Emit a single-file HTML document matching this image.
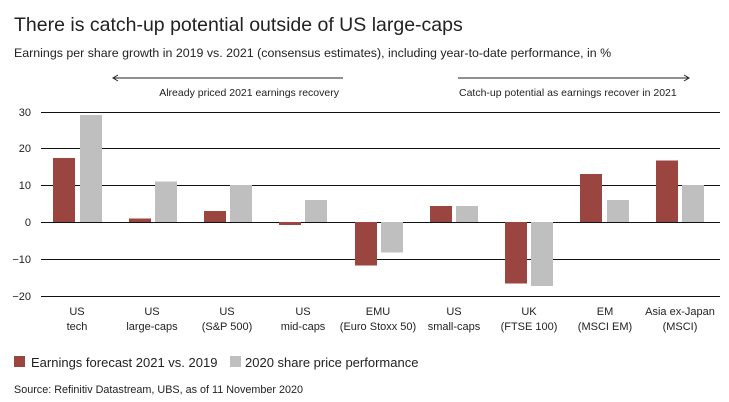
<!DOCTYPE html>
<html><head><meta charset="utf-8"><style>
body{margin:0;background:#fff;}
svg{display:block;font-family:"Liberation Sans",sans-serif;}
</style></head><body>
<svg width="729" height="402" viewBox="0 0 729 402" xmlns="http://www.w3.org/2000/svg">
<rect width="729" height="402" fill="#fff"/>
<text x="14" y="31" font-size="19.5" fill="#222">There is catch-up potential outside of US large-caps</text>
<text x="14" y="57" font-size="12.4" fill="#222">Earnings per share growth in 2019 vs. 2021 (consensus estimates), including year-to-date performance, in %</text>
<g stroke="#222" stroke-width="1" fill="none">
<line x1="113" y1="78" x2="343" y2="78"/><polyline points="118,75 113,78 118,81"/>
<line x1="458" y1="78" x2="689" y2="78"/><polyline points="684,75 689,78 684,81"/>
</g>
<text x="339" y="96" font-size="10.5" fill="#222" text-anchor="end">Already priced 2021 earnings recovery</text>
<text x="459" y="96" font-size="10.5" fill="#222">Catch-up potential as earnings recover in 2021</text>
<g stroke="#111" stroke-width="1">
<line x1="41" y1="112.5" x2="720" y2="112.5"/>
<line x1="41" y1="148.5" x2="720" y2="148.5"/>
<line x1="41" y1="185.5" x2="720" y2="185.5"/>
<line x1="41" y1="222.5" x2="720" y2="222.5"/>
<line x1="41" y1="259.5" x2="720" y2="259.5"/>
<line x1="41" y1="296.5" x2="720" y2="296.5"/>
</g>
<g font-size="11" fill="#222" text-anchor="end">
<text x="31" y="116">30</text><text x="31" y="152">20</text><text x="31" y="189">10</text>
<text x="31" y="226">0</text><text x="31" y="263">−10</text><text x="31" y="300">−20</text>
</g>
<g fill="#9b4541">
<rect x="53" y="158" width="22" height="64"/>
<rect x="129" y="218.5" width="22" height="3.5"/>
<rect x="204" y="211" width="22" height="11"/>
<rect x="279" y="222" width="22" height="3"/>
<rect x="355" y="222" width="22" height="43.5"/>
<rect x="430" y="206" width="22" height="16"/>
<rect x="505" y="222" width="22" height="61.5"/>
<rect x="580" y="174" width="22" height="48"/>
<rect x="656" y="160.5" width="22" height="61.5"/>
</g>
<g fill="#c0bfbf">
<rect x="80" y="115" width="22" height="107"/>
<rect x="155" y="181.5" width="22" height="40.5"/>
<rect x="230" y="185" width="22" height="37"/>
<rect x="305" y="200" width="22" height="22"/>
<rect x="381" y="222" width="22" height="30.5"/>
<rect x="456" y="206" width="22" height="16"/>
<rect x="531" y="222" width="22" height="64"/>
<rect x="607" y="200" width="22" height="22"/>
<rect x="682" y="185" width="22" height="37"/>
</g>
<g font-size="11" fill="#222" text-anchor="middle">
<text x="77" y="315">US</text><text x="77" y="330">tech</text>
<text x="152" y="315">US</text><text x="152" y="330">large-caps</text>
<text x="227" y="315">US</text><text x="227" y="330">(S&amp;P 500)</text>
<text x="303" y="315">US</text><text x="303" y="330">mid-caps</text>
<text x="378" y="315">EMU</text><text x="378" y="330">(Euro Stoxx 50)</text>
<text x="454" y="315">US</text><text x="454" y="330">small-caps</text>
<text x="529" y="315">UK</text><text x="529" y="330">(FTSE 100)</text>
<text x="605" y="315">EM</text><text x="605" y="330">(MSCI EM)</text>
<text x="680" y="315">Asia ex-Japan</text><text x="680" y="330">(MSCI)</text>
</g>
<rect x="14" y="356" width="11" height="11" fill="#9b4541"/>
<text x="31" y="367" font-size="13" fill="#222">Earnings forecast 2021 vs. 2019</text>
<rect x="230" y="356" width="11" height="11" fill="#c0bfbf"/>
<text x="245" y="367" font-size="13" fill="#222">2020 share price performance</text>
<text x="14" y="393" font-size="10.8" fill="#222">Source: Refinitiv Datastream, UBS, as of 11 November 2020</text>
</svg>
</body></html>
